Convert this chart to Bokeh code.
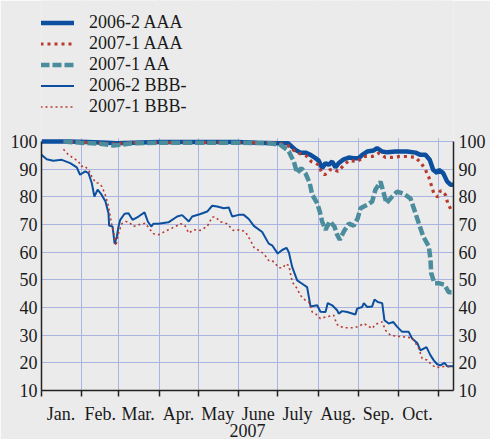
from bokeh.plotting import figure
from bokeh.models import FixedTicker, LinearAxis, Legend, LegendItem, Range1d, BoxAnnotation
from bokeh.embed import file_html
from bokeh.resources import INLINE

# ---- data (x = day of 2007, counted from Jan. 1) ----
month_labels = ["Jan.", "Feb.", "Mar.", "Apr.", "May", "June", "July", "Aug.", "Sep.", "Oct."]
month_start_days = [0, 31, 59, 90, 120, 151, 181, 212, 243, 273, 304]
month_mid_days = [15, 45, 74, 105, 135, 166, 196, 227, 258, 288]
y_ticks = [10, 20, 30, 40, 50, 60, 70, 80, 90, 100]

aaa06_day = [0, 20, 35, 50, 58, 70, 90, 110, 130, 150, 165, 181.2, 188.8, 194.5, 198.3, 202.1, 206, 209.8,
             212.3, 214.9, 217.5, 220, 222.6, 225.1, 227.6, 231.5, 235.3, 239.1, 243, 245.6, 249.4, 254.4,
             257, 260.9, 264.7, 271.1, 280, 286.4, 290.2, 294, 297.3, 299.9, 303, 304.2, 307.6, 310.6,
             313.2, 315.7]
aaa06_val = [100, 100, 99.8, 99.6, 99.4, 99.6, 99.8, 99.8, 99.8, 99.8, 99.6, 99.4, 99.4, 97, 96, 96, 95.2, 94,
             93.1, 90.4, 92.2, 91.6, 92.8, 90.7, 92.2, 93.6, 94.2, 94, 94, 95.2, 96.4, 96.8,
             97.6, 96.4, 96.1, 96.4, 96.4, 96, 95.2, 95.2, 93.4, 89.8, 88.6, 89.8, 88.6, 85.6,
             84.4, 84.4]

aaa07_day = [16.8, 30, 45, 56, 70, 90, 120, 150, 175, 181.2, 188.1, 193.2, 197, 202.9, 206.5, 212.3, 214.2,
             216.9, 220.8, 223.8, 226.9, 231, 235.3, 242.2, 246.8, 253.2, 258.3, 263.4, 268.5, 274.3, 280,
             286.4, 290.7, 294, 296.6, 298.4, 300.4, 303.4, 305.5, 309.3, 311.1, 313.7]
aaa07_val = [100, 99.8, 99.4, 99.2, 99.6, 99.6, 99.6, 99.6, 99.6, 99.4, 98.8, 96.8, 95.8, 94.8, 92.8, 91.6, 89.2,
             88, 89.8, 90, 89.2, 91.2, 93.1, 92.8, 94.6, 94.6, 95.8, 94.3, 94.3, 94.6, 94.6,
             94.3, 92.2, 89.8, 87.1, 84.4, 81.3, 79.9, 82.3, 80.8, 77.7, 75.3]

aa07_day = [16.8, 30, 45, 55, 60, 70, 90, 120, 150, 175, 183, 188.1, 189.4, 193.2, 195.8, 198.9, 202.1, 205.4,
            207.3, 211.1, 213.1, 214.9, 217.5, 220.8, 224.3, 226.4, 228.4, 231.5, 235.3, 239.1, 242.2, 244.3,
            249.4, 253.2, 255.7, 259.6, 262.1, 264.2, 268.5, 272.4, 277.4, 282.5, 285.1, 288.9, 292.3, 296.6,
            297.9, 298.4, 300.9, 304.2, 308.6, 311.9, 315.7]
aa07_val = [100, 99.6, 99.2, 98.6, 98.8, 99.4, 99.6, 99.6, 99.6, 99.4, 98.8, 97, 96.4, 92.8, 88.6, 90.4, 88.6, 85,
            80.8, 77.7, 74.7, 71.1, 68.1, 71.1, 69.3, 66.3, 64.5, 67.5, 70.3, 69.6, 72.3, 75.9,
            77.1, 78.3, 82.6, 85.5, 81.3, 77.7, 80.1, 81.9, 81.1, 79.5, 75.9, 70.5, 65.7, 62.1,
            57.3, 52.5, 48.8, 48.8, 48.2, 45.5, 45.5]

bbb06_day = [0, 4, 9, 15.5, 22, 27, 29.5, 33.5, 36, 38.5, 40.5, 43, 46, 49, 51.3, 51.8, 54.4, 56, 57.7, 59,
             60.3, 63.6, 66.6, 69.7, 74.3, 78.9, 81.4, 84, 85.8, 89.6, 97.2, 103.9, 107.7, 112.8, 115.4,
             121.7, 126.9, 130.7, 134.5, 139.6, 143.4, 146, 151.1, 154.9, 158.7, 162.6, 169, 174, 176.6,
             180.9, 184.3, 187.6, 189.4, 192, 195.8, 199.6, 203.4, 206, 211.1, 213.6, 217.5, 219.2, 222.6,
             226.4, 227.6, 230.2, 234.1, 240.4, 241.7, 245.6, 246.8, 249.4, 253.2, 255, 257.5, 260.9, 262.6,
             265.9, 269.3, 272.4, 276.2, 281.2, 283.8, 287.7, 290.2, 294.8, 297.9, 300.4, 303, 305.5, 308.6,
             310.6, 315.2]
bbb06_val = [95.2, 93.6, 93.1, 93.4, 92.2, 90.7, 88, 89.2, 88.6, 85, 80.1, 82.6, 80.8, 78.3, 74.1, 69.6, 69.3,
             63.1, 65.7, 69.3, 71.7, 73.9, 74.1, 71.7, 72.9, 74.4, 71.1, 69.3, 70.3, 70.3, 70.8, 72.9, 73.4,
             71.1, 72.9, 73.8, 74.7, 76.8, 76.5, 75.9, 76.2, 72.9, 73.5, 73.5, 72, 69.5, 67.3, 63.1, 62.5,
             59.5, 60.8, 61.6, 60, 54.6, 49.8, 48.6, 47.4, 40.4, 40.8, 38.5, 38.4, 41.6, 40.8, 39, 37.8,
             38.7, 38.4, 37.5, 39.6, 40.2, 41.6, 40.2, 40.4, 42.9, 42, 41.6, 35.4, 34.2, 34.8, 33, 31.2,
             31.2, 28.8, 27.2, 24.5, 25.7, 22.7, 20.9, 19.5, 19.1, 20, 18.8, 18.8]

bbb07_day = [16.8, 20.7, 24.5, 28.3, 30.4, 32.9, 36, 38.5, 41.6, 43.6, 46.2, 48.8, 51.3, 53.8, 55.9, 56.9, 59,
             61.5, 64.5, 67.2, 70.4, 74.3, 79.4, 83.2, 85.8, 89.6, 97.2, 102.6, 106.4, 109.5, 112.8, 116.6,
             121.7, 126.9, 130.7, 133.2, 137.1, 142.2, 146.8, 152.4, 156.2, 160, 162.6, 166.4, 170.2, 174,
             176.6, 179.2, 181.7, 185.1, 186.8, 189.4, 190.7, 192, 195.8, 198.3, 202.1, 204.7, 207.3, 209.8,
             213.6, 217.5, 220, 223.8, 225.9, 227.6, 232.8, 239.1, 243, 246.8, 250.6, 253.2, 255.7, 260.9,
             263.4, 267.2, 272.4, 277.4, 282.5, 285.1, 288.9, 291.5, 295.3, 299.2, 302.4, 305.5, 310.6, 313.2]
bbb07_val = [97.2, 95.2, 94, 92.8, 91, 91.2, 89.8, 87.4, 85, 85, 83.8, 80.8, 76.5, 69.9, 65.7, 62.3, 66.9,
             70.3, 71.1, 70.8, 69.3, 69.9, 70.5, 68.1, 66.7, 66.3, 68.1, 69.3, 70.3, 69.9, 66.9, 68.1,
             67.9, 69.3, 72.7, 72.7, 71, 70.3, 67.9, 68.1, 67.3, 64.3, 61.8, 60.6, 59.5, 57,
             57, 55.8, 54.4, 54.4, 55.8, 55.2, 52.2, 49.2, 46.8, 44.4, 42.6, 42, 38.4, 37.8,
             36, 36.6, 36.8, 37.2, 34.2, 33.2, 32.7, 32.7, 33.2, 34.2, 33.2, 32.4, 33.9, 34.8,
             31.8, 30, 29.6, 29.4, 29.1, 28.2, 25.2, 21.6, 21, 19.1, 18.3, 18.5, 18.8, 18.3]

# ---- styling ----
BG = "#ebebeb"
GRID = "#aab4e0"
BLUE = "#0b4f9e"
RED = "#b73a2f"
TEAL = "#4b8c9d"
FONT = "Liberation Serif"
FS = "18px"
TXT = "#1a1a1a"

p = figure(width=490, height=439, x_range=Range1d(0, 315.5), y_range=Range1d(10, 151),
           output_backend="svg", toolbar_location=None,
           min_border_left=41, min_border_right=37, min_border_top=0, min_border_bottom=48)
p.background_fill_color = BG
p.border_fill_color = BG
p.outline_line_color = None

r1 = p.line(aaa06_day, aaa06_val, line_color=BLUE, line_width=4.5)
r2 = p.line(aaa07_day, aaa07_val, line_color=RED, line_width=3.2, line_dash="3 4")
r3 = p.line(aa07_day, aa07_val, line_color=TEAL, line_width=4.5, line_dash="9 3")
r4 = p.line(bbb06_day, bbb06_val, line_color=BLUE, line_width=2)
r5 = p.line(bbb07_day, bbb07_val, line_color=RED, line_width=1.6, line_dash="2 3")

# grid
p.xgrid.ticker = FixedTicker(ticks=month_start_days[1:])
p.ygrid.ticker = FixedTicker(ticks=y_ticks[1:])
for g in (p.xgrid, p.ygrid):
    g.grid_line_color = GRID
    g.grid_line_width = 1

# blank area above the 100 line (legend space)
p.add_layout(BoxAnnotation(bottom=101.2, fill_color=BG, fill_alpha=1, line_color=None))

# bottom axis
xa = p.xaxis[0]
xa.ticker = FixedTicker(ticks=month_mid_days, minor_ticks=month_start_days)
xa.major_label_overrides = {d: lab for d, lab in zip(month_mid_days, month_labels)}
xa.major_tick_out = 0
xa.major_tick_in = 0
xa.minor_tick_out = 6
xa.minor_tick_in = 0
xa.minor_tick_line_color = "#222222"
xa.minor_tick_line_width = 1.5
xa.axis_line_color = "#222222"
xa.axis_line_width = 1.5
xa.major_label_standoff = 7
xa.axis_label = "2007"
xa.axis_label_standoff = -3
xa.axis_label_text_font_style = "normal"

# left axis
ya = p.yaxis[0]
ya.ticker = FixedTicker(ticks=y_ticks)
ya.major_label_standoff = 4

# right axis
ra = LinearAxis(ticker=FixedTicker(ticks=y_ticks))
ra.major_label_standoff = 5
p.add_layout(ra, "right")

for ax in (ya, ra):
    ax.bounds = (10, 100)
    ax.major_tick_out = 0
    ax.major_tick_in = 0
    ax.minor_tick_out = 0
    ax.minor_tick_in = 0
    ax.axis_line_color = "#222222"
    ax.axis_line_width = 1.5

for ax in (xa, ya, ra):
    ax.major_label_text_font = FONT
    ax.major_label_text_font_size = FS
    ax.major_label_text_color = TXT
    ax.axis_label_text_font = FONT
    ax.axis_label_text_font_size = FS
    ax.axis_label_text_color = TXT

legend = Legend(items=[LegendItem(label="2006-2 AAA", renderers=[r1]),
                       LegendItem(label="2007-1 AAA", renderers=[r2]),
                       LegendItem(label="2007-1 AA", renderers=[r3]),
                       LegendItem(label="2006-2 BBB-", renderers=[r4]),
                       LegendItem(label="2007-1 BBB-", renderers=[r5])],
                location=(-1, 273))
legend.glyph_width = 34
legend.glyph_height = 21
legend.label_height = 21
legend.spacing = 0
legend.label_standoff = 15
legend.padding = 0
legend.margin = 0
legend.border_line_color = None
legend.background_fill_alpha = 0
legend.label_text_font = FONT
legend.label_text_font_size = FS
legend.label_text_color = TXT
p.add_layout(legend)

open("out.html", "w").write(file_html(p, INLINE))
